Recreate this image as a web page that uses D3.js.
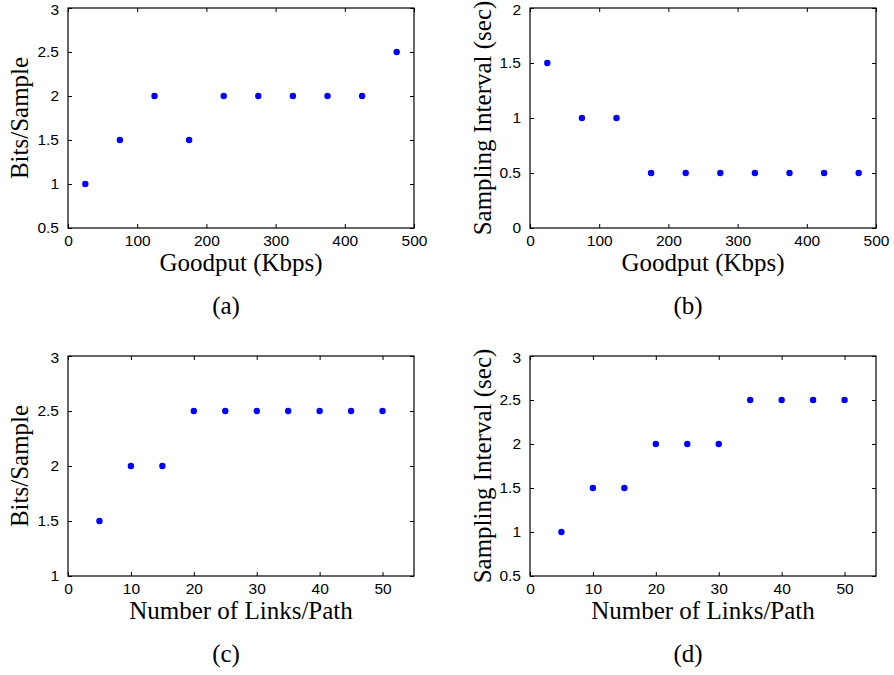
<!DOCTYPE html>
<html>
<head>
    <title>Bits/Sample and Sampling Interval</title>
    <script src="https://d3js.org/d3.v7.min.js"></script>
    <style>
        body { margin: 0; background: #fff; }
        .tick text { font-family: "Liberation Sans", Arial, sans-serif; font-size: 15.5px; fill: #000; }
        .lbl { font-family: "Liberation Serif", "Times New Roman", serif; font-size: 25px; fill: #000; }
    </style>
</head>
<body>
    <svg width="894" height="675"></svg>

    <script>
    // goodput experiments (a), (b)
    const goodput = [25, 75, 125, 175, 225, 275, 325, 375, 425, 475];
    const bitsVsGoodput = [1, 1.5, 2, 1.5, 2, 2, 2, 2, 2, 2.5];
    const intervalVsGoodput = [1.5, 1, 1, 0.5, 0.5, 0.5, 0.5, 0.5, 0.5, 0.5];

    // path length experiments (c), (d)
    const links = [5, 10, 15, 20, 25, 30, 35, 40, 45, 50];
    const bitsVsLinks = [1.5, 2, 2, 2.5, 2.5, 2.5, 2.5, 2.5, 2.5, 2.5];
    const intervalVsLinks = [1, 1.5, 1.5, 2, 2, 2, 2.5, 2.5, 2.5, 2.5];

    const goodputTicks = [0, 100, 200, 300, 400, 500];
    const linkTicks = [0, 10, 20, 30, 40, 50];

    const panels = [
        {x: goodput, y: bitsVsGoodput, xdom: [0, 500], ydom: [0.5, 3], xticks: goodputTicks,
         yticks: [0.5, 1, 1.5, 2, 2.5, 3], xlab: "Goodput (Kbps)", ylab: "Bits/Sample", cap: "(a)",
         left: 68, top: 8, capX: 226},
        {x: goodput, y: intervalVsGoodput, xdom: [0, 500], ydom: [0, 2], xticks: goodputTicks,
         yticks: [0, 0.5, 1, 1.5, 2], xlab: "Goodput (Kbps)", ylab: "Sampling Interval (sec)", cap: "(b)",
         left: 530, top: 8, capX: 688},
        {x: links, y: bitsVsLinks, xdom: [0, 55], ydom: [1, 3], xticks: linkTicks,
         yticks: [1, 1.5, 2, 2.5, 3], xlab: "Number of Links/Path", ylab: "Bits/Sample", cap: "(c)",
         left: 68, top: 356, capX: 226},
        {x: links, y: intervalVsLinks, xdom: [0, 55], ydom: [0.5, 3], xticks: linkTicks,
         yticks: [0.5, 1, 1.5, 2, 2.5, 3], xlab: "Number of Links/Path", ylab: "Sampling Interval (sec)", cap: "(d)",
         left: 530, top: 356, capX: 688}
    ];

    const W = 346, H = 220;
    const svg = d3.select("svg");
    const fmt = d => String(d);

    panels.forEach(p => {
        const g = svg.append("g").attr("transform", `translate(${p.left},${p.top})`);
        const x = d3.scaleLinear().domain(p.xdom).range([0, W]);
        const y = d3.scaleLinear().domain(p.ydom).range([H, 0]);

        // ticks on all four sides, pointing inward (matlab box style)
        g.append("g").attr("transform", `translate(0,${H})`)
            .call(d3.axisBottom(x).tickValues(p.xticks).tickFormat(fmt).tickSizeInner(-4).tickSizeOuter(0).tickPadding(7));
        g.append("g")
            .call(d3.axisTop(x).tickValues(p.xticks).tickFormat("").tickSizeInner(-4).tickSizeOuter(0));
        const yAx = g.append("g")
            .call(d3.axisLeft(y).tickValues(p.yticks).tickFormat(fmt).tickSizeInner(-4).tickSizeOuter(0).tickPadding(9));
        // keep the top label inside the page
        yAx.selectAll(".tick text").filter(d => d === p.ydom[1]).attr("dy", "0.4em");
        g.append("g").attr("transform", `translate(${W},0)`)
            .call(d3.axisRight(y).tickValues(p.yticks).tickFormat("").tickSizeInner(-4).tickSizeOuter(0));
        g.selectAll(".domain").remove();
        g.selectAll(".tick line").attr("stroke", "#000");

        g.append("rect")
            .attr("width", W).attr("height", H)
            .attr("fill", "none").attr("stroke", "#000").attr("stroke-width", 1.2);

        g.selectAll("circle")
            .data(p.x.map((v, i) => [v, p.y[i]]))
            .enter().append("circle")
            .attr("cx", d => x(d[0]))
            .attr("cy", d => y(d[1]))
            .attr("r", 3.2)
            .attr("fill", "#0000ff");

        g.append("text").attr("class", "lbl")
            .attr("x", W / 2).attr("y", H + 43)
            .attr("text-anchor", "middle")
            .text(p.xlab);

        g.append("text").attr("class", "lbl")
            .attr("transform", `translate(${p.left === 68 ? -40 : -39},${H / 2}) rotate(-90)`)
            .attr("text-anchor", "middle")
            .text(p.ylab);

        svg.append("text").attr("class", "lbl")
            .attr("x", p.capX).attr("y", p.top + H + 86)
            .attr("text-anchor", "middle")
            .text(p.cap);
    });
    </script>
</body>
</html>
